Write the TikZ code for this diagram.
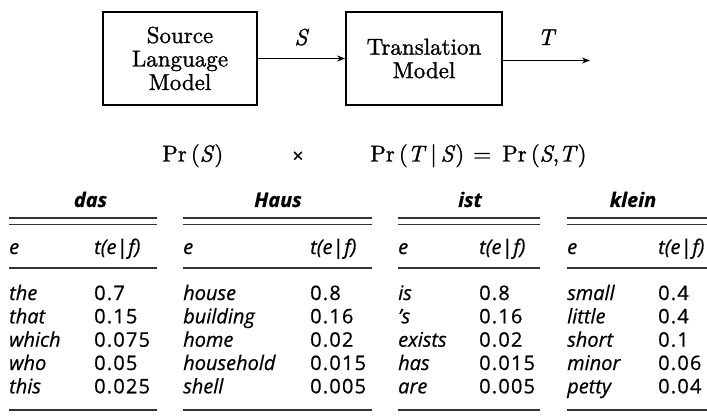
\documentclass[tikz,border=0pt]{standalone}
\usepackage{fontspec}
\usetikzlibrary{arrows.meta}
% serif for the channel diagram, thickened a little
\newfontfamily\diagfont{lmroman10-regular.otf}[
  FakeBold=1.3,
  ItalicFont=lmroman10-italic.otf,
  ItalicFeatures={FakeBold=1.3}]
\newfontfamily\tabfont{Open Sans}[FakeBold=0.6]
\newfontfamily\numfont{Open Sans}[FakeBold=0.6, LetterSpace=6]

\begin{document}
\begin{tikzpicture}[x=1pt,y=-1pt,
  modelbox/.style={draw, line width=1.8pt, minimum width=#1, minimum height=93pt,
    inner sep=0pt, align=center, font=\diagfont\fontsize{23}{23.5}\selectfont},
  flow/.style={line width=1.5pt, -{Stealth[length=8pt,width=6pt]}},
  sig/.style={font=\diagfont\itshape\fontsize{23}{23}\selectfont, anchor=base},
  formula/.style={font=\diagfont\fontsize{23}{23}\selectfont, anchor=base west, inner sep=0pt},
  rulestyle/.style={line width=1.6pt, black!80},
  title/.style={font=\tabfont\fontsize{20}{20}\selectfont\bfseries\itshape, anchor=base, inner sep=0pt},
  cell/.style={font=\numfont\fontsize{20}{20}\selectfont, anchor=base west, inner sep=0pt},
  word/.style={font=\tabfont\fontsize{20}{20}\selectfont\itshape, anchor=base west, inner sep=0pt},
]
\useasboundingbox (0,0) rectangle (707,417);

% --- channel diagram ---
\node[modelbox=154pt] (src) at (180,58.5) {Source\\Language\\Model};
\node[modelbox=156pt] (tm)  at (424,58.5) {Translation\\Model};
\coordinate (out) at (590,60.5);
\draw[flow] (src.east) -- (tm.west);
\draw[flow] (tm.east |- out) -- (out);
\node[sig] (lblS) at (301,45) {S};
\node[sig] (lblT) at (546,45) {T};

% --- decomposition ---
\node[formula] (prS) at (162,161.5) {Pr\kern4pt(\textit{S})};
\node[font=\tabfont\fontsize{19}{19}\selectfont, inner sep=0pt] (times) at (298,157) {×};
\node[formula] (prTS) at (370,161.5)
  {Pr\kern4pt(\textit{T}\kern4pt|\kern4pt\textit{S})\kern9pt=\kern11ptPr\kern4pt(\textit{S},\textit{T})};

% --- translation tables ---
% frame of one table: left x, right x, number column x
\newcommand{\ttable}[3]{%
  \draw[rulestyle] (#1,218) -- (#2,218);
  \draw[rulestyle] (#1,224.5) -- (#2,224.5);
  \draw[rulestyle] (#1,268) -- (#2,268);
  \draw[rulestyle] (#1,410) -- (#2,410);
  \node[word] at (#1,254) {e};
  \node[word] at (#3,254) {t(e|\kern1pt f)};
}
% one entry: word x, number x, baseline, word, probability
\newcommand{\trow}[5]{%
  \node[word] at (#1,#3) {#4};
  \node[cell] at (#2,#3) {#5};
}

% das
\node[title] (tdas) at (90.5,207) {das};
\ttable{9}{157}{94}
\trow{9}{94}{300}{the}{0.7}
\trow{9}{94}{323.3}{that}{0.15}
\trow{9}{94}{346.7}{which}{0.075}
\trow{9}{94}{370}{who}{0.05}
\trow{9}{94}{393.3}{this}{0.025}

% Haus
\node[title] (thaus) at (278,207) {Haus};
\ttable{183}{372}{310}
\trow{183}{310}{300}{house}{0.8}
\trow{183}{310}{323.3}{building}{0.16}
\trow{183}{310}{346.7}{home}{0.02}
\trow{183}{310}{370}{household}{0.015}
\trow{183}{310}{393.3}{shell}{0.005}

% ist
\node[title] (tist) at (470,207) {ist};
\ttable{398}{540}{479}
\trow{398}{479}{300}{is}{0.8}
\trow{398}{479}{323.3}{’s}{0.16}
\trow{398}{479}{346.7}{exists}{0.02}
\trow{398}{479}{370}{has}{0.015}
\trow{398}{479}{393.3}{are}{0.005}

% klein
\node[title] (tklein) at (633,207) {klein};
\ttable{567}{707}{658}
\trow{567}{658}{300}{small}{0.4}
\trow{567}{658}{323.3}{little}{0.4}
\trow{567}{658}{346.7}{short}{0.1}
\trow{567}{658}{370}{minor}{0.06}
\trow{567}{658}{393.3}{petty}{0.04}
\end{tikzpicture}
\end{document}
